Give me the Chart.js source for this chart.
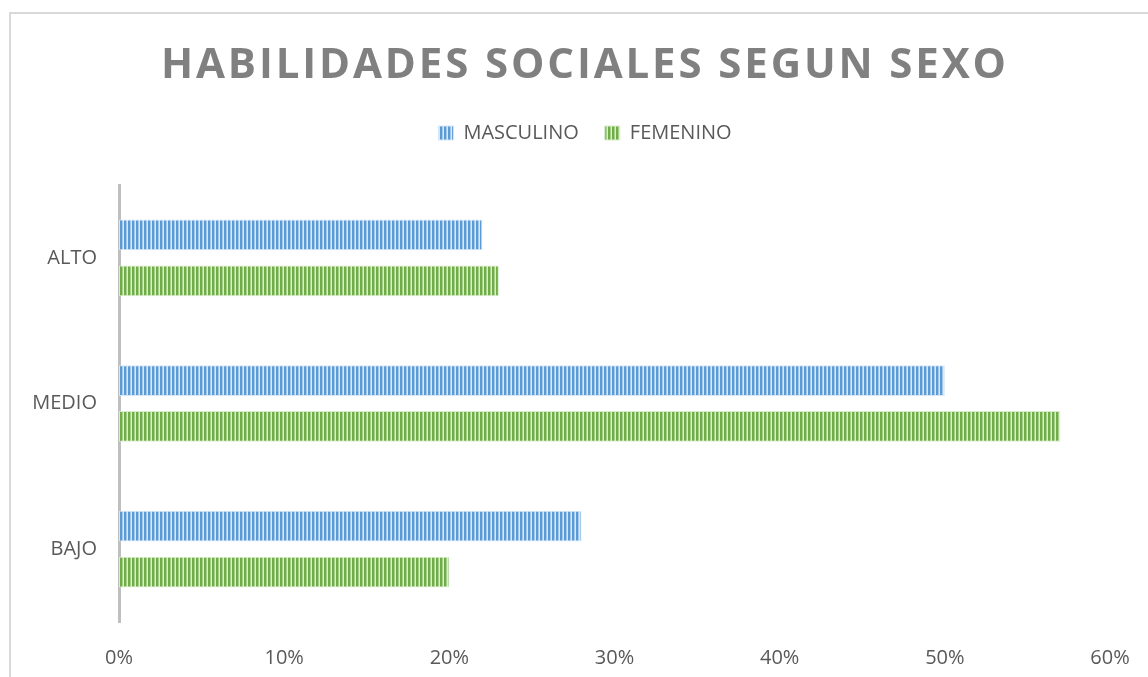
<!DOCTYPE html>
<html>
<head>
<meta charset="utf-8">
<script src="https://cdn.jsdelivr.net/npm/chart.js@4/dist/chart.umd.min.js"></script>
<style>
  html, body { margin: 0; padding: 0; background: #fff; overflow: hidden; }
  #wrap { position: relative; width: 1148px; height: 677px; }
  #frame { position: absolute; left: 9px; top: 12px; width: 1200px; height: 700px; border: 2px solid #d9d9d9; box-sizing: border-box; }
  canvas { position: absolute; left: 0; top: 0; }
</style>
</head>
<body>
<div id="wrap">
  <div id="frame"></div>
  <canvas id="chart" width="1148" height="677"></canvas>
</div>
<script>
// Datos
const chartTitle = 'HABILIDADES SOCIALES SEGUN SEXO';
const categories = ['ALTO', 'MEDIO', 'BAJO'];
const masculino  = [22, 50, 28];
const femenino   = [23, 57, 20];
const xTicks     = [0, 10, 20, 30, 40, 50, 60];

const ctx = document.getElementById('chart').getContext('2d');

// Relleno de rayas verticales, como en el original
function stripes(dark, mid, light) {
    const c = document.createElement('canvas');
    c.width = 4; c.height = 4;
    const g = c.getContext('2d');
    g.fillStyle = dark;  g.fillRect(0, 0, 4, 4);
    g.fillStyle = mid;   g.fillRect(2, 0, 1, 4);
    g.fillStyle = light; g.fillRect(3, 0, 1, 4);
    return ctx.createPattern(c, 'repeat');
}

const bluePattern  = stripes('#5b9bd5', '#a6c8ea', '#d7e7f6');
const greenPattern = stripes('#70ad47', '#a7cf8c', '#dcedd1');

// Título con espaciado entre letras + ajuste de la leyenda
const titlePlugin = {
    id: 'spacedTitle',
    beforeUpdate(chart) {
        const lg = chart.legend;
        if (lg && !lg._fixed) {
            const fit = lg.fit;
            lg.fit = function () { fit.call(this); this.height = 88; };
            lg._fixed = true;
        }
    },
    afterLayout(chart) {
        // centrar la leyenda como en el original
        chart.legend.left += 30;
        chart.legend.right += 30;
    },
    afterDraw(chart) {
        const c = chart.ctx;
        c.save();
        c.font = 'bold 42px "Open Sans"';
        c.fillStyle = '#808080';
        c.textBaseline = 'middle';
        c.textAlign = 'left';
        c.letterSpacing = '0px';
        const w = c.measureText(chartTitle).width;
        const sp = (845 - w) / (chartTitle.length - 1);
        c.letterSpacing = sp + 'px';
        c.fillText(chartTitle, 161, 66);
        c.restore();
    }
};

new Chart(ctx, {
    type: 'bar',
    data: {
        labels: categories,
        datasets: [{
            label: 'MASCULINO',
            data: masculino,
            backgroundColor: bluePattern,
            borderColor: '#d6e6f5',
            borderWidth: 1,
            borderSkipped: false
        }, {
            label: 'FEMENINO',
            data: femenino,
            backgroundColor: greenPattern,
            borderColor: '#d9ebcd',
            borderWidth: 1,
            borderSkipped: false
        }]
    },
    plugins: [titlePlugin],
    options: {
        indexAxis: 'y',
        responsive: false,
        animation: false,
        categoryPercentage: 0.63,
        barPercentage: 0.67,
        layout: { padding: { top: 97, right: 38, bottom: 0, left: 0 } },
        plugins: {
            title: { display: false },
            tooltip: { enabled: false },
            legend: {
                position: 'top',
                labels: {
                    boxWidth: 15,
                    boxHeight: 14,
                    padding: 26,
                    color: '#595959',
                    font: { family: '"Open Sans"', size: 20 }
                }
            }
        },
        scales: {
            x: {
                min: 0,
                max: 60,
                afterBuildTicks(scale) { scale.ticks = xTicks.map(v => ({ value: v })); },
                afterFit(scale) {
                    scale.height = 55;
                    scale.paddingLeft = 0;
                    scale.paddingRight = 0;
                },
                grid: { display: false, drawTicks: false },
                border: { display: false },
                ticks: {
                    padding: 24,
                    color: '#595959',
                    font: { family: '"Open Sans"', size: 20 },
                    callback: v => v + '%'
                }
            },
            y: {
                afterFit(scale) { scale.width = 119; },
                grid: { display: false, drawTicks: false },
                border: { display: true, color: '#bfbfbf', width: 3 },
                ticks: {
                    padding: 22,
                    color: '#595959',
                    font: { family: '"Open Sans"', size: 20 }
                }
            }
        }
    }
});
</script>
</body>
</html>
